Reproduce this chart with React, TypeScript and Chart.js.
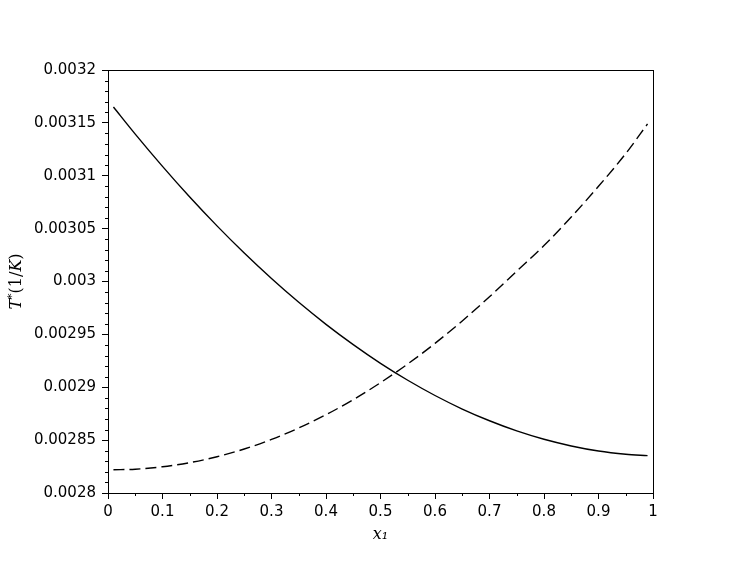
import React, { useEffect, useRef } from "react";
import { Chart, registerables } from "chart.js";

Chart.register(...registerables);

// x1 sample positions
const xValues = [0.01, 0.05, 0.1, 0.15, 0.2, 0.25, 0.3, 0.35, 0.4, 0.45, 0.5, 0.55, 0.6, 0.65, 0.7, 0.75, 0.8, 0.85, 0.9, 0.95, 0.99];

// solid curve (decreasing)
const solidSeries = [
  0.003165, 0.0031394, 0.0031089, 0.0030799, 0.0030526, 0.0030269, 0.0030028, 0.0029803, 0.0029595, 0.0029403,
  0.0029226, 0.0029066, 0.0028922, 0.0028794, 0.0028683, 0.0028587, 0.0028508, 0.0028445, 0.0028397, 0.0028367,
  0.0028353,
];

// dashed curve (increasing)
const dashedSeries = [
  0.002822, 0.0028225, 0.0028248, 0.0028287, 0.0028343, 0.0028416, 0.0028507, 0.0028615, 0.002874, 0.0028883,
  0.0029043, 0.002922, 0.0029415, 0.0029627, 0.0029856, 0.0030098, 0.003034, 0.003061, 0.00309, 0.003121, 0.003149,
];

const xTickValues = [0, 0.1, 0.2, 0.3, 0.4, 0.5, 0.6, 0.7, 0.8, 0.9, 1];
const xTickLabels = ["0", "0.1", "0.2", "0.3", "0.4", "0.5", "0.6", "0.7", "0.8", "0.9", "1"];
const yTickValues = [0.0028, 0.00285, 0.0029, 0.00295, 0.003, 0.00305, 0.0031, 0.00315, 0.0032];
const yTickLabels = ["0.0028", "0.00285", "0.0029", "0.00295", "0.003", "0.00305", "0.0031", "0.00315", "0.0032"];

// y-axis title pieces: [text, italic, superscript]
const yTitleParts: [string, boolean, boolean][] = [
  ["T", true, false],
  ["*", false, true],
  ["(1/", false, false],
  ["K", true, false],
  [")", false, false],
];

const xMinorStep = 0.05;
const yMinorStep = 0.00001;

const frameAndMinorTicks = {
  id: "frameAndMinorTicks",
  afterDraw(chart: any) {
    const { ctx, chartArea, scales } = chart;
    const xs = scales.x;
    const ys = scales.y;
    ctx.save();
    ctx.strokeStyle = "#000";
    ctx.lineWidth = 1;
    ctx.strokeRect(
      Math.round(chartArea.left) + 0.5,
      Math.round(chartArea.top) + 0.5,
      Math.round(chartArea.right - chartArea.left),
      Math.round(chartArea.bottom - chartArea.top)
    );
    ctx.beginPath();
    const nx = Math.round((xs.max - xs.min) / xMinorStep);
    for (let i = 0; i <= nx; i++) {
      if (i % 2 === 0) continue;
      const v = xs.min + i * xMinorStep;
      const px = Math.round(xs.getPixelForValue(v)) + 0.5;
      ctx.moveTo(px, chartArea.bottom);
      ctx.lineTo(px, chartArea.bottom + 3);
    }
    const ny = Math.round((ys.max - ys.min) / yMinorStep);
    for (let i = 0; i <= ny; i++) {
      if (i % 5 === 0) continue;
      const v = ys.min + i * yMinorStep;
      const py = Math.round(ys.getPixelForValue(v)) + 0.5;
      ctx.moveTo(chartArea.left, py);
      ctx.lineTo(chartArea.left - 3, py);
    }
    ctx.stroke();

    // y-axis title with mixed styles, rotated
    const fontFor = (italic: boolean, sup: boolean) =>
      `${italic ? "italic " : ""}${sup ? 11 : 16}px "DejaVu Serif"`;
    let total = 0;
    for (const [t, it, sup] of yTitleParts) {
      ctx.font = fontFor(it, sup);
      total += ctx.measureText(t).width;
    }
    const cy = (chartArea.top + chartArea.bottom) / 2;
    ctx.translate(21, cy);
    ctx.rotate(-Math.PI / 2);
    ctx.fillStyle = "#000";
    ctx.textBaseline = "alphabetic";
    ctx.textAlign = "left";
    let pos = -total / 2;
    for (const [t, it, sup] of yTitleParts) {
      ctx.font = fontFor(it, sup);
      ctx.fillText(t, pos, sup ? -6 : 0);
      pos += ctx.measureText(t).width;
    }
    ctx.restore();
  },
};

export default function App() {
  const canvasRef = useRef<HTMLCanvasElement | null>(null);

  useEffect(() => {
    if (!canvasRef.current) return;
    const chart = new Chart(canvasRef.current, {
      type: "line",
      data: {
        datasets: [
          {
            label: "solid",
            data: xValues.map((x, i) => ({ x, y: solidSeries[i] })),
            borderColor: "#000",
            borderWidth: 1.4,
            pointRadius: 0,
            cubicInterpolationMode: "monotone",
            fill: false,
          },
          {
            label: "dashed",
            data: xValues.map((x, i) => ({ x, y: dashedSeries[i] })),
            borderColor: "#000",
            borderWidth: 1.4,
            borderDash: [11, 5],
            pointRadius: 0,
            cubicInterpolationMode: "monotone",
            fill: false,
          },
        ],
      },
      options: {
        responsive: false,
        animation: false,
        layout: { padding: { top: 70, right: 94, left: 0, bottom: 0 } },
        plugins: {
          legend: { display: false },
          tooltip: { enabled: false },
        },
        scales: {
          x: {
            type: "linear",
            min: 0,
            max: 1,
            afterBuildTicks: (scale: any) => {
              scale.ticks = xTickValues.map((v) => ({ value: v }));
            },
            afterFit: (scale: any) => {
              scale.height = 71;
            },
            ticks: {
              color: "#000",
              font: { family: "DejaVu Sans", size: 15 },
              padding: 4,
              maxRotation: 0,
              autoSkip: false,
              callback: (_v: any, i: number) => xTickLabels[i],
            },
            grid: {
              drawOnChartArea: false,
              tickLength: 6,
              tickColor: "#000",
              tickWidth: 1,
            },
            border: { display: true, color: "#000", width: 1 },
            title: {
              display: true,
              text: "x₁",
              color: "#000",
              font: { family: "DejaVu Serif", size: 16, style: "italic" },
              padding: { top: 0, bottom: 20 },
            },
          },
          y: {
            type: "linear",
            min: 0.0028,
            max: 0.0032,
            afterBuildTicks: (scale: any) => {
              scale.ticks = yTickValues.map((v) => ({ value: v }));
            },
            afterFit: (scale: any) => {
              scale.width = 108;
            },
            ticks: {
              color: "#000",
              font: { family: "DejaVu Sans", size: 15 },
              padding: 6,
              autoSkip: false,
              callback: (_v: any, i: number) => yTickLabels[i],
            },
            grid: {
              drawOnChartArea: false,
              tickLength: 6,
              tickColor: "#000",
              tickWidth: 1,
            },
            border: { display: true, color: "#000", width: 1 },
            title: { display: false },
          },
        },
      },
      plugins: [frameAndMinorTicks],
    } as any);
    return () => chart.destroy();
  }, []);

  return (
    <div style={{ position: "fixed", left: 0, top: 0, width: 747, height: 564, background: "#fff" }}>
      <canvas ref={canvasRef} width={747} height={564} style={{ display: "block" }} />
    </div>
  );
}
